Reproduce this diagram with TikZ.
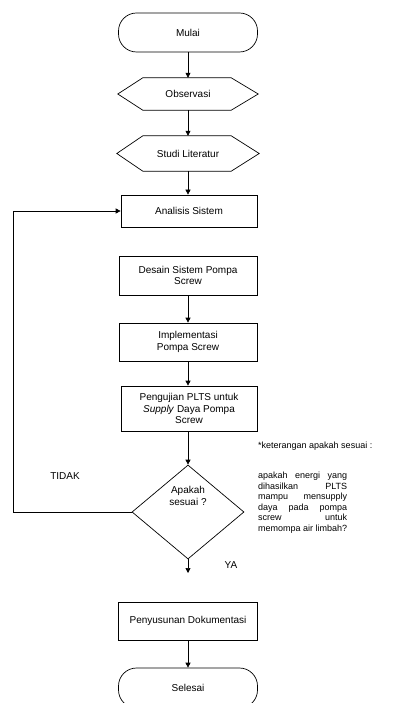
\documentclass[tikz,border=0pt]{standalone}
\usepackage{fontspec}
\setmainfont{Liberation Sans}
\usetikzlibrary{arrows.meta,shapes.geometric}
\begin{document}
\begin{tikzpicture}[x=1pt,y=-1pt,
  every node/.style={font=\fontsize{10}{11.5}\selectfont, inner sep=0pt},
  notefont/.style={font=\fontsize{9}{10.5}\selectfont},
  line/.style={line width=0.7pt, draw=black},
  arr/.style={line, -{Triangle[length=5pt,width=5pt]}},
  procbox/.style={line, rectangle, align=center},
  termbox/.style={line, rectangle, rounded corners=18pt, align=center},
  hexlabel/.style={rectangle, align=center},
  decbox/.style={line, diamond, align=center}
]
\useasboundingbox (0,0) rectangle (395,703);

% nodes
\node[termbox, minimum width=139pt, minimum height=39pt] (mulai) at (188,32.5) {Mulai};
\node[hexlabel, minimum width=140pt, minimum height=32pt] (obs) at (188,94) {Observasi};
\node[hexlabel, minimum width=142pt, minimum height=35pt] (studi) at (188,153.5) {Studi Literatur};
\node[procbox, minimum width=136pt, minimum height=32pt] (ana) at (189,211) {Analisis Sistem};
\node[procbox, minimum width=138pt, minimum height=39pt] (des) at (188,275.5) {Desain Sistem Pompa\\Screw};
\node[procbox, minimum width=138pt, minimum height=38pt] (imp) at (188,342) {Implementasi\\Pompa Screw};
\node[procbox, minimum width=136pt, minimum height=45pt] (uji) at (189,408.5) {Pengujian PLTS untuk\\\textit{Supply} Daya Pompa\\Screw};
\node[decbox, minimum width=112pt, minimum height=94pt] (dec) at (188,512) {};
\node (dectxt) at (188,496) [align=center] {Apakah\\sesuai ?};
\node[procbox, minimum width=139pt, minimum height=38pt] (dok) at (188,621) {Penyusunan Dokumentasi};
\node[termbox, minimum width=139pt, minimum height=40pt] (sel) at (188,688) {Selesai};

% hexagons
\draw[line] ([xshift=25pt]obs.north west) -- ([xshift=-27pt]obs.north east) -- (obs.east)
  -- ([xshift=-27pt]obs.south east) -- ([xshift=25pt]obs.south west) -- (obs.west) -- cycle;
\draw[line] ([xshift=26pt]studi.north west) -- ([xshift=-28pt]studi.north east) -- (studi.east)
  -- ([xshift=-28pt]studi.south east) -- ([xshift=26pt]studi.south west) -- (studi.west) -- cycle;

% labels
\node (tidak) at (65,476) {TIDAK};
\node (ya) at (231,565) {YA};
\node[notefont, anchor=west] (ket) at (258,446) {*keterangan apakah sesuai :};
\node[notefont, anchor=north west, align=left] (par) at (258,472)
  {\makebox[89pt][s]{apakah energi yang}\\
   \makebox[89pt][s]{dihasilkan PLTS}\\
   \makebox[89pt][s]{mampu mensupply}\\
   \makebox[89pt][s]{daya pada pompa}\\
   \makebox[89pt][s]{screw untuk}\\
   memompa air limbah?};

% connectors
\coordinate (loopx) at (13,0);
\coordinate (yaend) at (188,573);
\draw[arr] (mulai.south) -- (mulai.south |- obs.north);
\draw[arr] (obs.south) -- (obs.south |- studi.north);
\draw[arr] (studi.south) -- (studi.south |- ana.north);
\draw[arr] (des.south) -- (des.south |- imp.north);
\draw[arr] (imp.south) -- (imp.south |- uji.north);
\draw[arr] (uji.south -| dec.north) -- (dec.north);
\draw[arr] (dec.west) -- (dec.west -| loopx) |- (ana.west);
\draw[arr] (dec.south) -- (yaend);
\draw[arr] (dok.south) -- (dok.south |- sel.north);
\end{tikzpicture}
\end{document}
